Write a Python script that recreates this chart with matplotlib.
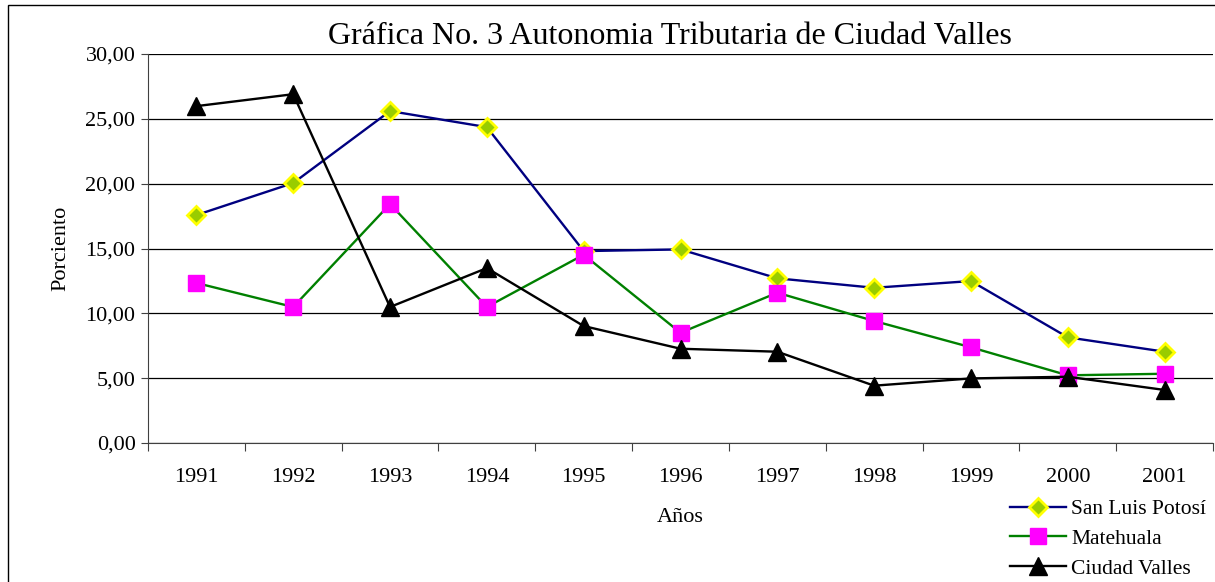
import matplotlib
matplotlib.use('Agg')
import matplotlib.pyplot as plt
from matplotlib.patches import Rectangle
from matplotlib.ticker import FuncFormatter, FixedLocator

plt.rcParams['font.family'] = ['Liberation Serif', 'DejaVu Serif']

years = ['1991', '1992', '1993', '1994', '1995', '1996', '1997', '1998', '1999', '2000', '2001']
san_luis = [17.58, 20.05, 25.60, 24.36, 14.80, 14.93, 12.70, 11.97, 12.49, 8.15, 7.04]
matehuala = [12.34, 10.49, 18.43, 10.49, 14.52, 8.50, 11.59, 9.41, 7.38, 5.22, 5.34]
ciudad_valles = [25.98, 26.90, 10.49, 13.49, 9.02, 7.27, 7.04, 4.42, 4.98, 5.11, 4.09]

W, H = 1215, 582
fig = plt.figure(figsize=(W / 100, H / 100), dpi=100)
ax = fig.add_axes([148 / W, 1 - 443 / H, (1213 - 148) / W, (443 - 54) / H])

# outer chart frame (runs past the right and bottom edges)
fig.patches.append(Rectangle((8 / W, -0.05), 1.2, 1 - 5 / H + 0.05, transform=fig.transFigure,
                             fill=False, edgecolor='black', linewidth=1.0))

x = list(range(len(years)))
ax.plot(x, san_luis, color='#000080', lw=1.7, marker='D', markersize=9.5,
        markerfacecolor='#99CC00', markeredgecolor='#FFFF00', markeredgewidth=2,
        label='San Luis Potosí', zorder=3)
ax.plot(x, matehuala, color='#008000', lw=1.7, marker='s', markersize=12,
        markerfacecolor='#FF00FF', markeredgecolor='#FF00FF', label='Matehuala', zorder=3)
ax.plot(x, ciudad_valles, color='black', lw=1.7, marker='^', markersize=13,
        markerfacecolor='black', markeredgecolor='black', label='Ciudad Valles', zorder=4)

ax.set_xlim(-0.5, len(years) - 0.5)
ax.set_ylim(0, 30)
ax.set_yticks([0, 5, 10, 15, 20, 25, 30])
ax.yaxis.set_major_formatter(FuncFormatter(lambda v, p: f'{v:.2f}'.replace('.', ',')))
ax.grid(axis='y', color='black', lw=0.9)
ax.set_axisbelow(True)

ax.xaxis.set_major_locator(FixedLocator([i - 0.5 for i in range(len(years) + 1)]))
ax.xaxis.set_minor_locator(FixedLocator(x))
ax.set_xticklabels([])
ax.set_xticklabels(years, minor=True)
ax.tick_params(axis='x', which='major', length=6, direction='out', color='#404040')
ax.tick_params(axis='x', which='minor', length=0, pad=18, labelsize=16)
ax.tick_params(axis='y', length=5, direction='out', pad=4, labelsize=16, color='#404040')

for side in ['top', 'right']:
    ax.spines[side].set_visible(False)
ax.spines['left'].set_color('#404040')
ax.spines['bottom'].set_color('#404040')

fig.text(670 / W, 1 - 37 / H, 'Gráfica No. 3 Autonomia Tributaria de Ciudad Valles',
         ha='center', va='center', fontsize=23)
fig.text(680 / W, 1 - 517 / H, 'Años', ha='center', va='center', fontsize=16)
fig.text(61 / W, 1 - 248 / H, 'Porciento', ha='center', va='center', rotation=90, fontsize=16)

fig.legend(loc='upper left', bbox_to_anchor=(1010 / W, 1 - 499 / H), frameon=False,
           fontsize=15.5, handlelength=2.6, handletextpad=0.25, labelspacing=0.45,
           borderaxespad=0, borderpad=0)

fig.savefig('out.png', dpi=100)
